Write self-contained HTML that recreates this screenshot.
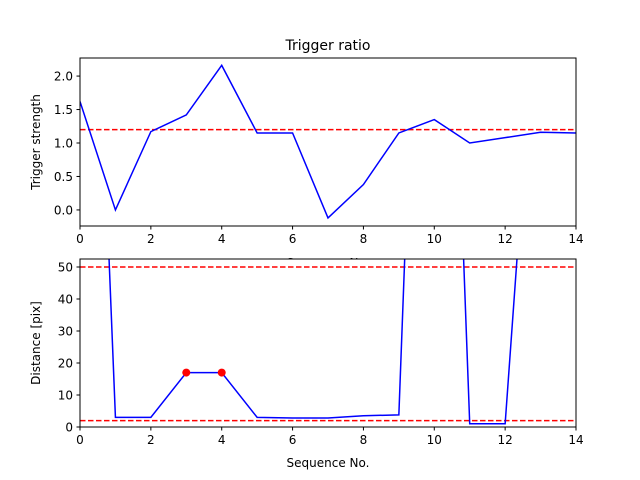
<!DOCTYPE html>
<html><head><meta charset="utf-8"><style>body{margin:0;background:#fff}svg{display:block;font-family:"DejaVu Sans","Liberation Sans",sans-serif}</style></head>
<body>
<svg id="c" width="640" height="480"></svg>
<script>
const seq=[0,1,2,3,4,5,6,7,8,9,10,11,12,13,14];
const strength=[1.62,0.0,1.17,1.42,2.16,1.15,1.15,-0.12,0.38,1.15,1.35,1.0,1.08,1.16,1.15];
const strengthThreshold=1.2;
const distance=[278,3,3,17,17,3,2.8,2.8,3.5,3.8,300,1,1,155,155];
const distThresholds=[50,2];
const markedSeq=[3,4];
const xTicks=[0,2,4,6,8,10,12,14];
const yTicksTop=[0.0,0.5,1.0,1.5,2.0];
const yTicksBot=[0,10,20,30,40,50];

const NS="http://www.w3.org/2000/svg";
const svg=document.getElementById('c');
function el(t,a,p){const e=document.createElementNS(NS,t);for(const k in a)e.setAttribute(k,a[k]);(p||svg).appendChild(e);return e;}
const L=80,R=576;
const sx=v=>L+(v-0)/(14-0)*(R-L);
function panel(top,bot,ymin,ymax,yt,ylabel,xname,fmt){
  const sy=v=>bot-(v-ymin)/(ymax-ymin)*(bot-top);
  return sy;
}
// top panel
const T1=58,B1=226,ymin1=-0.24,ymax1=2.27;
const sy1=v=>B1-(v-ymin1)/(ymax1-ymin1)*(B1-T1);
const T2=259,B2=427,ymin2=0,ymax2=52.5;
const sy2=v=>B2-(v-ymin2)/(ymax2-ymin2)*(B2-T2);

let t=el('text',{x:328,y:50,'text-anchor':'middle','font-size':14});t.textContent='Trigger ratio';


t=el('text',{x:328,y:267,'text-anchor':'middle','font-size':12});t.textContent='Sequence No.';



function drawPanel(T,B,sy,yt,ylabel,data,thr,nm){
  const g=el('g',{});
  
  
  el('rect',{x:L,y:T,width:R-L,height:B-T,fill:'#fff'},g);
  const defs=el('clipPath',{id:'cp'+nm},g);el('rect',{x:L,y:T,width:R-L,height:B-T},defs);
  thr.forEach(v=>{const l=el('line',{x1:L,x2:R,y1:sy(v),y2:sy(v),stroke:'#f00','stroke-width':1.5,'stroke-dasharray':'5.5,2.5','clip-path':`url(#cp${nm})`},g);
    
    });
  const p=el('polyline',{points:data.map((v,i)=>sx(seq[i])+','+sy(v)).join(' '),fill:'none',stroke:'#00f','stroke-width':1.5,'clip-path':`url(#cp${nm})`},g);
  
  
  el('rect',{x:L,y:T,width:R-L,height:B-T,fill:'none',stroke:'#000','stroke-width':1},g);
  xTicks.forEach(v=>{el('line',{x1:sx(v),x2:sx(v),y1:B,y2:B+3.5,stroke:'#000'},g);
    const tx=el('text',{x:sx(v),y:B+17,'text-anchor':'middle','font-size':12},g);tx.textContent=v;
    
    });
  yt.forEach(v=>{el('line',{x1:L-3.5,x2:L,y1:sy(v),y2:sy(v),stroke:'#000'},g);
    const tx=el('text',{x:L-7,y:sy(v)+4.5,'text-anchor':'end','font-size':12},g);tx.textContent=nm==='top'?v.toFixed(1):v;
    
    });
  const yl=el('text',{x:0,y:0,'text-anchor':'middle','font-size':12,transform:`translate(40,${(T+B)/2}) rotate(-90)`},g);yl.textContent=ylabel;
  
  
  return g;
}
drawPanel(T1,B1,sy1,yTicksTop,'Trigger strength',strength,[strengthThreshold],'top');
const g2=drawPanel(T2,B2,sy2,yTicksBot,'Distance [pix]',distance,distThresholds,'bottom');
markedSeq.forEach(s=>{const c=el('circle',{cx:sx(s),cy:sy2(distance[s]),r:4,fill:'#f00'},g2);
  
  });
t=el('text',{x:328,y:467,'text-anchor':'middle','font-size':12});t.textContent='Sequence No.';


</script>
</body></html>
